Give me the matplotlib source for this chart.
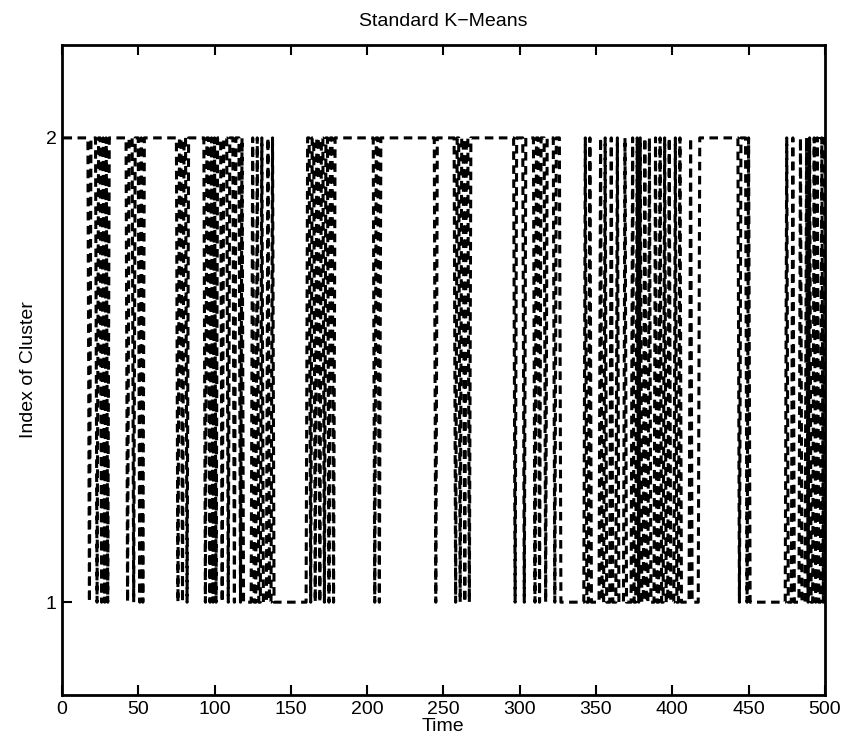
import numpy as np
import matplotlib
matplotlib.use('Agg')
import matplotlib.pyplot as plt

plt.rcParams['font.family'] = ['Liberation Sans', 'DejaVu Sans']

# Cluster index over time: baseline level per segment, plus single-step flips
n_steps = 500
seg_starts = [1, 119, 160, 180, 327, 419, 451, 471]
seg_levels = [2, 1, 2, 2, 1, 2, 1, 1]
flip_times = [18, 23, 26, 28, 30,
              43, 47, 51, 53,
              76, 79, 82,
              94, 97, 99, 101, 105, 109, 113, 117,
              125, 128, 131, 135, 138,
              160, 163, 166, 169, 172, 175, 178,
              205, 208,
              245, 258, 261, 264, 267,
              297, 303, 310, 313, 317, 323,
              343, 346, 353, 356, 360, 364, 369, 374, 377, 379, 382,
              385, 389, 392, 395, 398, 402, 405, 412, 418,
              444, 449,
              475, 479, 484, 488, 490, 493, 495, 498, 500]

x_ticks = [0, 50, 100, 150, 200, 250, 300, 350, 400, 450, 500]
y_ticks = [1, 2]


def build_series():
    t = np.arange(1, n_steps + 1)
    idx = np.zeros(n_steps, dtype=int)
    for i, start in enumerate(seg_starts):
        end = seg_starts[i + 1] if i + 1 < len(seg_starts) else n_steps + 1
        idx[(t >= start) & (t < end)] = seg_levels[i]
    for ft in flip_times:
        idx[ft - 1] = 3 - idx[ft - 1]
    return t, idx


t, idx = build_series()

fig = plt.figure(figsize=(8.43, 7.42), dpi=100)
ax = fig.add_axes([0.0735, 0.0633, 0.905, 0.876])

ax.plot(t, idx, color='black', linewidth=2.2, linestyle=(0, (2.8, 1.8)))

ax.set_xlim(0, 500)
ax.set_ylim(0.8, 2.2)
ax.set_xticks(x_ticks)
ax.set_yticks(y_ticks)
ax.tick_params(direction='in', length=7, width=1.5, top=True, right=True,
               labelsize=14, pad=4)
for side in ax.spines.values():
    side.set_linewidth(2)

ax.set_title('Standard K\u2212Means', fontsize=14, pad=14)
ax.set_xlabel('Time', fontsize=14, labelpad=0)
ax.set_ylabel('Index of Cluster', fontsize=14, labelpad=6)

fig.savefig('out.png', dpi=100)
